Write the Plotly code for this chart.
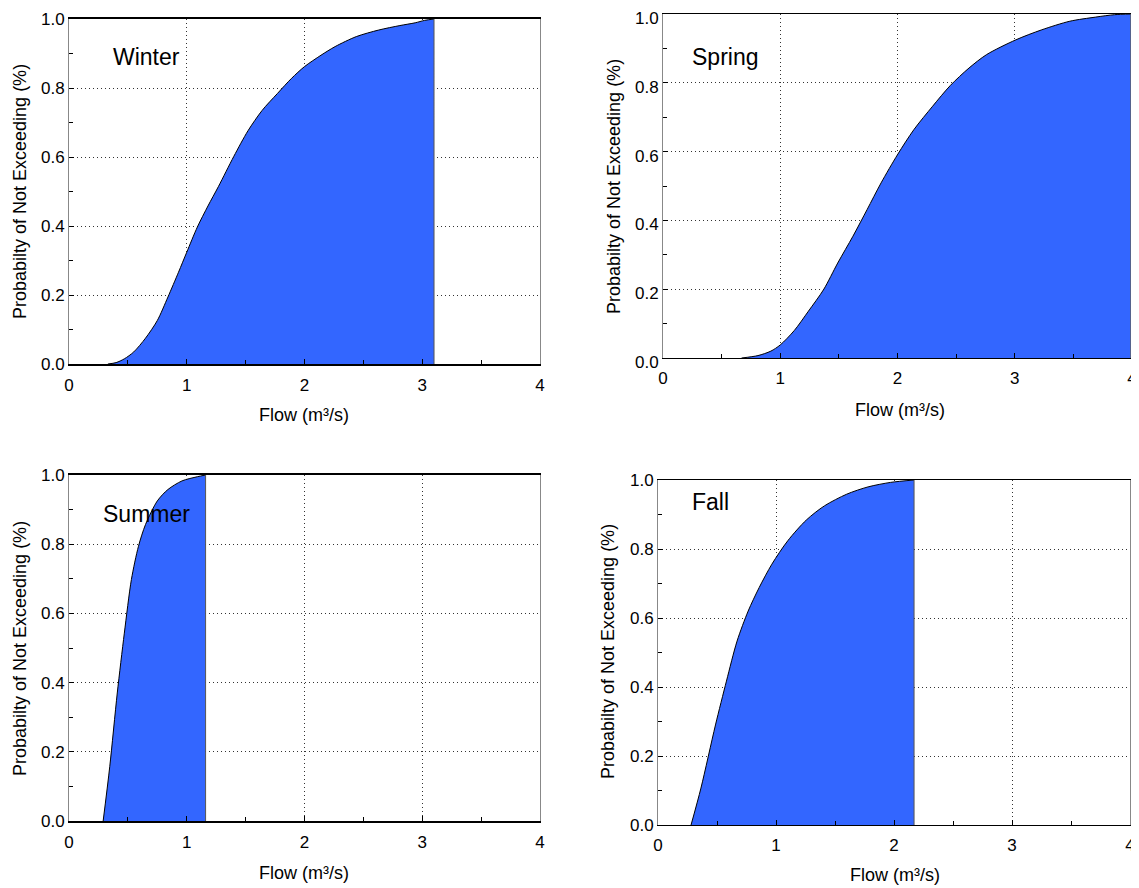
import plotly.graph_objects as go

# ---- data ----
seasons = ["Winter", "Spring", "Summer", "Fall"]

winter_flow = [0.33, 0.40, 0.47, 0.55, 0.65, 0.75, 0.84, 0.93, 1.00, 1.09, 1.18, 1.27, 1.40, 1.52,
               1.64, 1.77, 1.89, 2.00, 2.14, 2.26, 2.44, 2.63, 2.81, 2.94, 3.02, 3.10]
winter_prob = [0.0, 0.004, 0.015, 0.035, 0.075, 0.126, 0.194, 0.266, 0.324, 0.397, 0.458, 0.515,
               0.602, 0.676, 0.735, 0.784, 0.828, 0.862, 0.895, 0.92, 0.949, 0.968, 0.981, 0.989,
               0.996, 1.0]

spring_flow = [0.67, 0.81, 0.92, 1.00, 1.12, 1.24, 1.37, 1.49, 1.62, 1.74, 1.86, 2.00, 2.14, 2.30,
               2.45, 2.61, 2.76, 3.01, 3.23, 3.47, 3.69, 3.85, 3.99]
spring_prob = [0.0, 0.007, 0.02, 0.038, 0.08, 0.136, 0.199, 0.276, 0.354, 0.431, 0.509, 0.591,
               0.664, 0.732, 0.792, 0.843, 0.882, 0.925, 0.954, 0.979, 0.991, 0.998, 1.0]

summer_flow = [0.29, 0.346, 0.41, 0.47, 0.53, 0.59, 0.65, 0.75, 0.84, 0.96, 1.09, 1.16]
summer_prob = [0.0, 0.157, 0.37, 0.543, 0.698, 0.794, 0.857, 0.925, 0.958, 0.983, 0.995, 1.0]

fall_flow = [0.28, 0.364, 0.487, 0.58, 0.67, 0.764, 0.857, 0.965, 1.10, 1.257, 1.41, 1.60, 1.78,
             1.97, 2.17]
fall_prob = [0.0, 0.107, 0.29, 0.417, 0.533, 0.62, 0.688, 0.756, 0.824, 0.884, 0.925, 0.959, 0.98,
             0.993, 1.0]

x_tick_vals = [0, 1, 2, 3, 4]
x_tick_text = ["0", "1", "2", "3", "4"]
y_tick_vals = [0.0, 0.2, 0.4, 0.6, 0.8, 1.0]
y_tick_text = ["0.0", "0.2", "0.4", "0.6", "0.8", "1.0"]

x_title = "Flow (m³/s)"
y_title = "Probabilty of Not Exceeding (%)"

flows = [winter_flow, spring_flow, summer_flow, fall_flow]
probs = [winter_prob, spring_prob, summer_prob, fall_prob]

# ---- layout geometry (pixels in the page; the page body adds an 8px offset) ----
OFF = 8
W, H = 1139 - OFF, 888 - OFF
# left, right, top, bottom of each plot area
boxes = [(69, 540, 19, 364), (663, 1132, 14, 358), (69, 540, 475, 821), (658, 1130, 480, 825)]
frame_w = [2, 1, 2, 1]
ylabel_shift = [0, 4, 0, 0]
label_pos = [(0.36, 0.89), (0.23, 0.875), (0.27, 0.888), (0.27, 0.935)]
ytitle_pos = [(20, 192), (614, 187), (20, 649), (608, 652)]
xtitle_pos = [(304, 415), (900, 410), (304, 873), (895, 875)]

FONT = "Liberation Sans, Arial, sans-serif"
BLUE = "#3366FF"


def px(xp):
    return (xp - OFF) / W


def py(yp):
    return 1 - (yp - OFF) / H


fig = go.Figure()
annotations = []
layout_axes = {}

for i in range(4):
    sfx = "" if i == 0 else str(i + 1)
    xa, ya = "x" + sfx, "y" + sfx
    fx, fy = flows[i], probs[i]
    fig.add_trace(go.Scatter(
        x=fx, y=fy, mode="lines", fill="tozeroy", fillcolor=BLUE,
        line=dict(color="black", width=1, shape="spline", smoothing=0.8),
        xaxis=xa, yaxis=ya, showlegend=False, hoverinfo="skip"))
    # vertical closing edge of the filled area
    fig.add_trace(go.Scatter(
        x=[fx[-1], fx[-1]], y=[0, fy[-1]], mode="lines",
        line=dict(color="#555555", width=1),
        xaxis=xa, yaxis=ya, showlegend=False, hoverinfo="skip"))

    l, r, t, b = boxes[i]
    xdom = [px(l), px(r)]
    ydom = [py(b), py(t)]
    common_grid = dict(showgrid=True, gridcolor="#333333", griddash="1px,3px", gridwidth=1,
                       zeroline=False, showline=True, mirror=True, ticks="inside",
                       ticklen=5, tickcolor="black", automargin=False,
                       ticklabeloverflow="allow",
                       tickfont=dict(family=FONT, size=17, color="black"))
    layout_axes["xaxis" + sfx] = dict(
        domain=xdom, range=[0, 4], anchor=ya, tickvals=x_tick_vals, ticktext=x_tick_text,
        linecolor="black", linewidth=frame_w[i], ticklabelstandoff=5,
        minor=dict(ticks="inside", ticklen=4, dtick=0.5, tick0=0, tickcolor="black", showgrid=False),
        **common_grid)
    layout_axes["yaxis" + sfx] = dict(
        domain=ydom, range=[0, 1], anchor=xa, tickvals=y_tick_vals, ticktext=y_tick_text,
        linecolor="#888888", linewidth=1, ticklabelshift=ylabel_shift[i],
        minor=dict(ticks="inside", ticklen=4, dtick=0.1, tick0=0, tickcolor="black", showgrid=False),
        **common_grid)

    annotations.append(dict(
        text=seasons[i], xref=xa, yref=ya, x=label_pos[i][0], y=label_pos[i][1],
        xanchor="left", yanchor="middle", showarrow=False,
        font=dict(family=FONT, size=23, color="black")))
    annotations.append(dict(
        text=y_title, xref="paper", yref="paper",
        x=px(ytitle_pos[i][0]), y=py(ytitle_pos[i][1]), textangle=-90,
        xanchor="center", yanchor="middle", showarrow=False,
        font=dict(family=FONT, size=18, color="black")))
    annotations.append(dict(
        text=x_title, xref="paper", yref="paper",
        x=px(xtitle_pos[i][0]), y=py(xtitle_pos[i][1]),
        xanchor="center", yanchor="middle", showarrow=False,
        font=dict(family=FONT, size=18, color="black")))

fig.update_layout(
    template="none",
    width=W, height=H, margin=dict(l=0, r=0, t=0, b=0, autoexpand=False),
    paper_bgcolor="white", plot_bgcolor="white",
    annotations=annotations, **layout_axes)

fig.write_html("out.html")
